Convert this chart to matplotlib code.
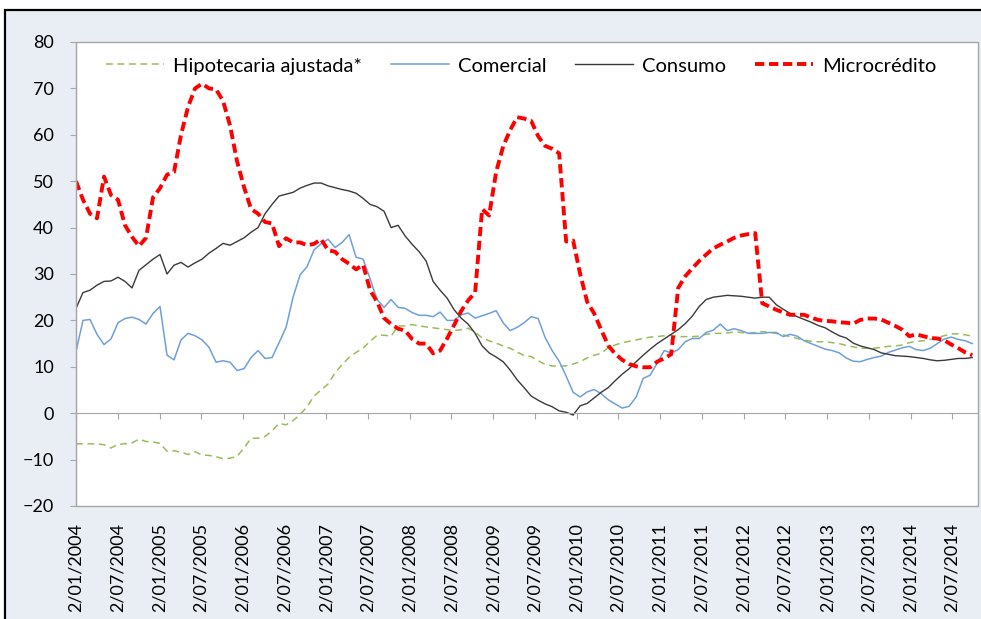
import matplotlib
matplotlib.use('Agg')
import matplotlib.pyplot as plt
from matplotlib.patches import Rectangle
import pandas as pd

# --- datos (lectura aproximada del grafico, un punto por mes) ---
fechas = pd.date_range('2004-01-02', '2014-09-29', periods=129)

hipotecaria = [
    -6.6, -6.6, -6.6, -6.6, -6.8, -7.5, -6.7, -6.6, -6.4, -5.6, -6.1, -6.2,
    -6.5, -8.2, -8.1, -8.4, -8.9, -8.3, -9.0, -9.1, -9.4, -9.8, -9.7, -9.3,
    -7.5, -5.4, -5.4, -5.0, -3.8, -2.2, -2.5, -1.6, -0.3, 1.4, 3.7, 5.0,
    6.3, 8.7, 10.5, 12.0, 13.1, 14.0, 15.5, 16.8, 16.8, 16.6, 18.8, 18.8,
    19.1, 18.8, 18.6, 18.4, 18.2, 18.0, 17.8, 18.0, 18.3, 17.5, 16.2, 15.6,
    15.1, 14.5, 14.0, 13.2, 12.4, 12.2, 11.3, 10.5, 10.2, 10.1, 10.2, 10.6,
    11.1, 11.9, 12.5, 12.9, 14.1, 14.7, 15.2, 15.5, 15.8, 16.1, 16.4, 16.5,
    16.7, 16.8, 16.5, 16.5, 16.5, 16.6, 17.0, 17.2, 17.2, 17.3, 17.5, 17.4,
    17.2, 17.4, 17.6, 17.4, 17.2, 16.9, 16.5, 16.1, 15.7, 15.5, 15.4, 15.4,
    15.2, 15.0, 14.6, 14.3, 14.0, 14.0, 14.0, 14.2, 14.4, 14.5, 14.7, 15.2,
    15.5, 15.6, 15.9, 16.3, 16.7, 17.1, 17.1, 16.9, 16.6]

comercial = [
    13.3, 20.0, 20.2, 17.0, 14.8, 16.0, 19.5, 20.4, 20.7, 20.2, 19.2, 21.5,
    23.0, 12.5, 11.5, 15.8, 17.2, 16.7, 15.8, 14.2, 11.0, 11.3, 11.0, 9.2,
    9.6, 12.0, 13.5, 11.8, 12.0, 15.2, 18.5, 25.0, 29.8, 31.6, 35.2, 36.5,
    37.5, 35.7, 36.8, 38.5, 33.6, 33.2, 29.0, 24.5, 22.8, 24.5, 22.8, 22.6,
    21.7, 21.1, 21.1, 20.8, 21.8, 20.0, 20.0, 21.2, 21.6, 20.5, 21.0, 21.5,
    22.1, 19.5, 17.8, 18.5, 19.5, 20.8, 20.4, 16.3, 13.5, 11.2, 8.0, 4.5,
    3.5, 4.6, 5.1, 4.2, 2.9, 2.0, 1.1, 1.5, 3.5, 7.5, 8.2, 10.8,
    13.5, 13.0, 13.7, 15.4, 16.1, 16.1, 17.4, 17.9, 19.2, 17.8, 18.2, 17.8,
    17.2, 17.2, 17.2, 17.4, 17.4, 16.5, 17.0, 16.6, 15.6, 15.0, 14.4, 13.8,
    13.5, 13.0, 11.9, 11.2, 11.1, 11.6, 12.0, 12.3, 13.1, 13.6, 14.1, 14.4,
    13.7, 13.5, 14.0, 15.0, 16.0, 16.4, 15.9, 15.6, 15.0]

consumo = [
    22.6, 26.0, 26.5, 27.6, 28.4, 28.5, 29.3, 28.4, 27.0, 30.8, 32.0, 33.2,
    34.2, 30.0, 31.9, 32.5, 31.5, 32.4, 33.2, 34.5, 35.5, 36.6, 36.2, 37.0,
    37.8, 39.0, 40.0, 43.0, 45.0, 46.8, 47.2, 47.6, 48.5, 49.1, 49.6, 49.6,
    49.0, 48.6, 48.2, 47.9, 47.4, 46.3, 45.0, 44.5, 43.5, 40.0, 40.5, 38.2,
    36.4, 34.8, 32.8, 28.4, 26.5, 24.8, 22.3, 20.5, 19.2, 17.2, 14.5, 13.0,
    12.1, 11.1, 9.3, 7.2, 5.5, 3.7, 2.8, 2.0, 1.4, 0.5, 0.2, -0.4,
    1.6, 2.1, 3.3, 4.5, 5.5, 7.0, 8.4, 9.6, 11.1, 12.5, 13.8, 15.0,
    16.0, 17.0, 18.0, 19.3, 20.9, 23.0, 24.5, 25.0, 25.2, 25.4, 25.3, 25.2,
    25.0, 24.8, 25.0, 25.0, 23.4, 22.4, 21.5, 20.8, 20.2, 19.6, 18.9, 18.4,
    17.5, 16.7, 16.2, 15.1, 14.5, 14.1, 13.7, 13.0, 12.7, 12.4, 12.3, 12.2,
    12.0, 11.8, 11.5, 11.3, 11.4, 11.6, 11.8, 11.8, 12.0]

microcredito = [
    50.0, 46.0, 43.0, 42.0, 51.0, 47.0, 46.0, 40.5, 38.0, 36.0, 37.8, 46.5,
    48.5, 51.4, 52.0, 60.0, 66.0, 70.0, 71.0, 70.0, 69.8, 67.3, 62.0, 54.3,
    48.7, 44.0, 43.0, 41.2, 40.9, 36.0, 37.7, 36.8, 36.8, 36.2, 36.5, 37.5,
    35.1, 34.8, 33.2, 32.2, 31.0, 32.0, 26.5, 24.0, 20.5, 19.2, 18.2, 17.8,
    16.0, 15.0, 15.0, 12.9, 13.5, 16.1, 19.0, 22.0, 24.3, 26.0, 44.0, 42.6,
    52.0, 57.5, 61.0, 63.8, 63.5, 63.0, 59.7, 57.6, 57.0, 56.0, 37.0, 37.2,
    30.0, 24.0, 21.5, 18.0, 14.6, 12.8, 11.5, 10.6, 10.1, 9.9, 9.9, 11.1,
    11.8, 12.7, 27.0, 29.5, 31.2, 32.8, 34.2, 35.5, 36.3, 37.0, 37.8, 38.3,
    38.6, 38.8, 23.7, 23.0, 22.3, 21.7, 21.2, 21.2, 21.2, 20.6, 20.1, 19.9,
    19.8, 19.6, 19.5, 19.3, 20.1, 20.4, 20.4, 20.2, 19.5, 18.8, 18.0, 16.6,
    17.0, 16.6, 16.2, 16.1, 15.7, 14.8, 14.0, 13.1, 12.5]

series = ['Hipotecaria ajustada*', 'Comercial', 'Consumo', 'Microcrédito']
anios = list(range(2004, 2015))
tick_fechas = pd.to_datetime([f'{a}-{m}-02' for a in anios for m in ('01', '07')])
tick_labels = [f'2/{m}/{a}' for a in anios for m in ('01', '07')]
y_ticks = list(range(-20, 90, 10))

# --- figura ---
plt.rcParams['font.family'] = ['Lato', 'DejaVu Sans']
W, H = 981, 619
fig = plt.figure(figsize=(W / 100, H / 100), dpi=100)
fig.patch.set_facecolor('white')
fig.add_artist(Rectangle((5 / W, -0.05), 1.0, (H - 10) / H + 0.05,
                         transform=fig.transFigure, facecolor='#E9EEF5',
                         edgecolor='black', lw=1.6, zorder=0))

ax = fig.add_axes([76 / W, 1 - 506 / H, 902 / W, 464 / H])
ax.set_facecolor('white')

ax.plot(fechas, hipotecaria, color='#9BBB59', lw=1.1, ls=(0, (4.5, 3)), label=series[0])
ax.plot(fechas, comercial, color='#6F9FDB', lw=1.1, label=series[1])
ax.plot(fechas, consumo, color='#3A3A3A', lw=1.0, label=series[2])
ax.plot(fechas, microcredito, color='#FF0000', lw=2.8, ls=(0, (2.4, 1.2)), label=series[3])

ax.set_ylim(-20, 80)
ax.set_xlim(pd.Timestamp('2004-01-02'), pd.Timestamp('2014-10-24'))

# ejes al estilo Excel
for s in ['top', 'right']:
    ax.spines[s].set_visible(False)
ax.spines['left'].set_color('#A6A6A6')
ax.spines['bottom'].set_position(('data', 0))
ax.spines['bottom'].set_color('#A6A6A6')
ax.add_patch(Rectangle((0, 0), 1, 1, transform=ax.transAxes, fill=False,
                       edgecolor='#A6A6A6', lw=1.0, zorder=5, clip_on=False))

ax.set_yticks(y_ticks)
ax.tick_params(axis='y', direction='out', length=4, color='#A6A6A6',
               labelsize=13, pad=12)
ax.set_xticks(tick_fechas)
ax.set_xticklabels(tick_labels, rotation=90, fontsize=13)
ax.tick_params(axis='x', direction='out', length=4, color='#A6A6A6', pad=75)

leg = ax.legend(loc='center left', bbox_to_anchor=((106 - 76) / 902, 1 - (66 - 42) / 464),
                ncol=4, frameon=False, fontsize=14.5, borderpad=0, borderaxespad=0,
                handlelength=2.9, handletextpad=0.45, columnspacing=1.4)

fig.savefig('out.png', dpi=100, facecolor=fig.get_facecolor())
